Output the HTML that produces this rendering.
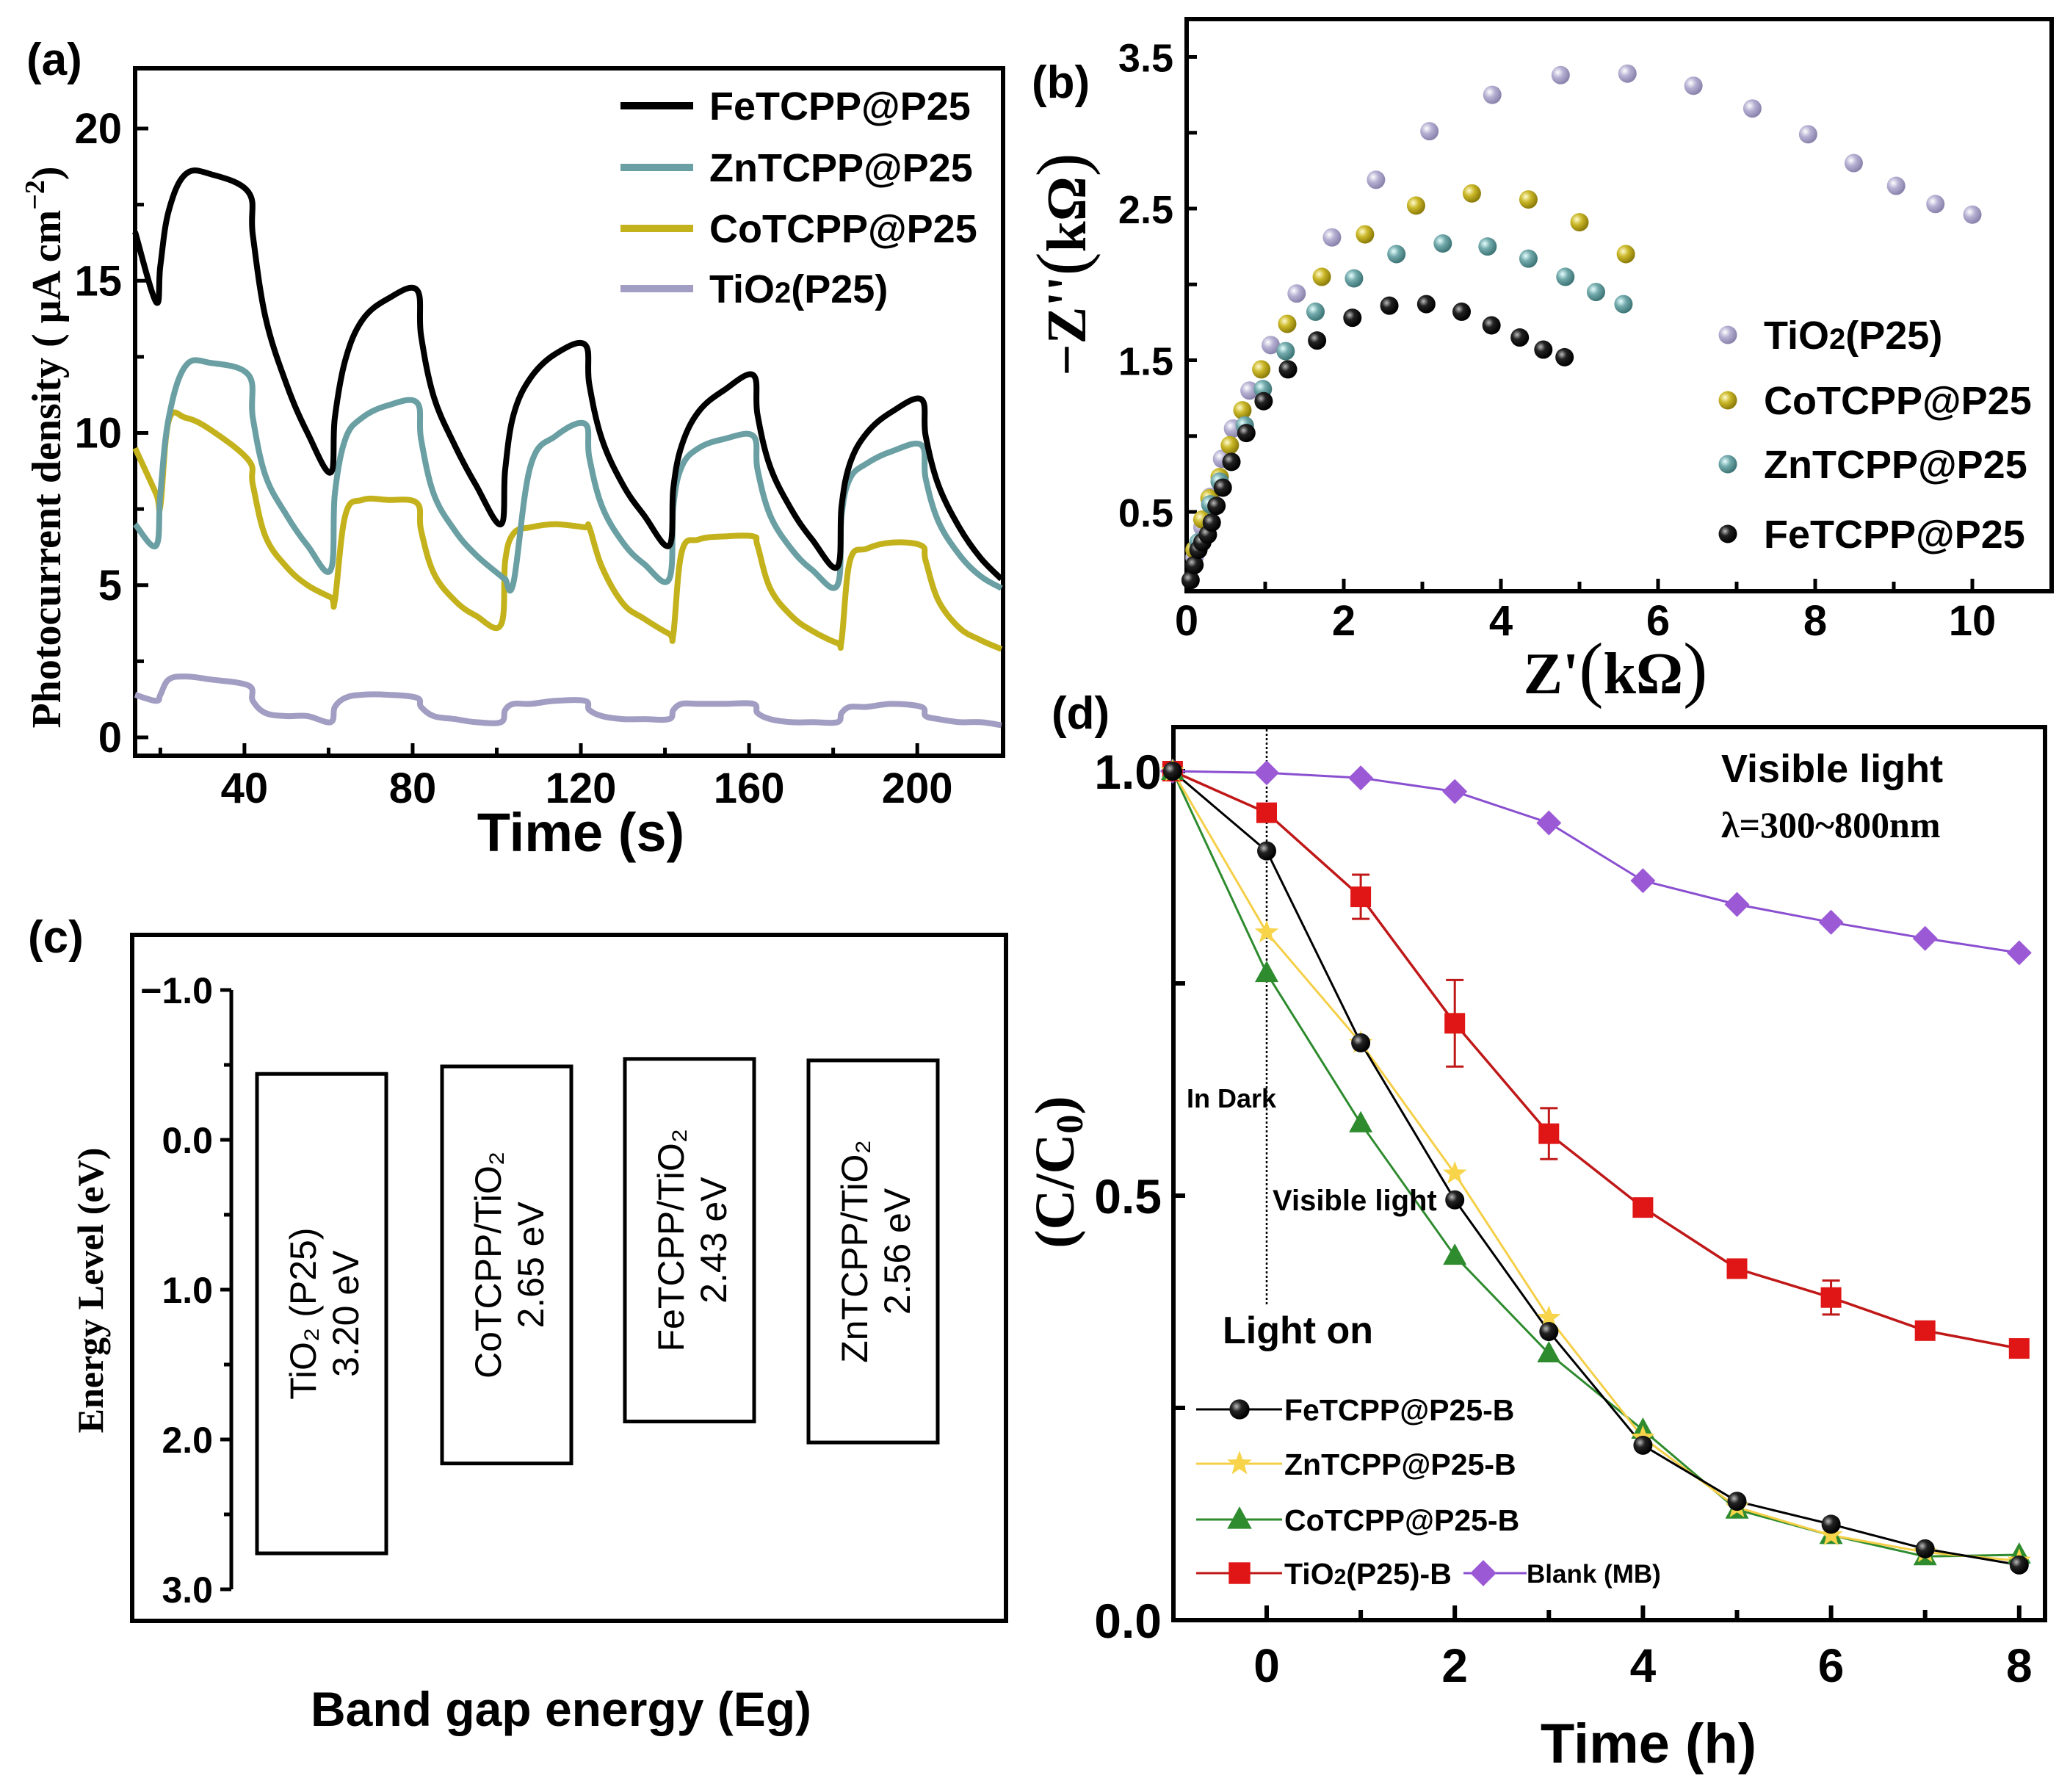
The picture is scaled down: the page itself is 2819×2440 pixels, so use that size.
<!DOCTYPE html>
<html><head><meta charset="utf-8"><style>
html,body{margin:0;padding:0;background:#fff;}
svg{display:block;}
.sb{font-family:"Liberation Sans",sans-serif;font-weight:bold;}
.sr{font-family:"Liberation Serif",serif;font-weight:bold;}
.sn{font-family:"Liberation Sans",sans-serif;}
</style></head><body>
<svg id="fig" width="2819" height="2440" viewBox="0 0 2819 2440" xmlns="http://www.w3.org/2000/svg">
<defs>
<radialGradient id="gTi" cx="35%" cy="35%" r="65%"><stop offset="0" stop-color="#fff"/><stop offset="0.45" stop-color="#b6b1d3"/><stop offset="1" stop-color="#8a84ad"/></radialGradient>
<radialGradient id="gCo" cx="35%" cy="35%" r="65%"><stop offset="0" stop-color="#fffbd0"/><stop offset="0.45" stop-color="#cbb829"/><stop offset="1" stop-color="#8d7d0a"/></radialGradient>
<radialGradient id="gZn" cx="35%" cy="35%" r="65%"><stop offset="0" stop-color="#e6ffff"/><stop offset="0.45" stop-color="#72a9ab"/><stop offset="1" stop-color="#3f7678"/></radialGradient>
<radialGradient id="gFe" cx="35%" cy="35%" r="65%"><stop offset="0" stop-color="#bbb"/><stop offset="0.4" stop-color="#222"/><stop offset="1" stop-color="#000"/></radialGradient>
</defs>

<text class="sb" x="36" y="102" font-size="62">(a)</text>
<rect x="184" y="93" width="1182" height="936" fill="none" stroke="#000" stroke-width="6"/>
<g id="aAxes"></g>
<g id="aSeries"></g>
<text class="sb" x="791" y="1159" font-size="74" text-anchor="middle">Time (s)</text>
<text class="sr" transform="translate(82,609) rotate(-90)" font-size="56" text-anchor="middle">Photocurrent density ( μA cm<tspan dy="-22" font-size="38">−2</tspan><tspan dy="22">)</tspan></text>
<g id="aLegend"></g>

<text class="sb" x="1405" y="133" font-size="62">(b)</text>
<rect x="1616" y="26" width="1178" height="779" fill="none" stroke="#000" stroke-width="6"/>
<g id="bAxes"></g>
<g id="bSeries"></g>
<text class="sr" x="2200" y="944" font-size="80" text-anchor="middle">Z'<tspan font-size="100" font-weight="normal">(</tspan>kΩ<tspan font-size="100" font-weight="normal">)</tspan></text>
<text class="sr" transform="translate(1478,360) rotate(-90)" font-size="76" text-anchor="middle">−Z''<tspan font-size="96" font-weight="normal">(</tspan>kΩ<tspan font-size="96" font-weight="normal">)</tspan></text>
<g id="bLegend"></g>

<text class="sb" x="38" y="1297" font-size="62">(c)</text>
<rect x="180" y="1273" width="1190" height="934" fill="none" stroke="#000" stroke-width="6"/>
<g id="cAxes"></g>
<g id="cBoxes"></g>
<text class="sb" x="764" y="2350" font-size="66" text-anchor="middle">Band gap energy (Eg)</text>
<text class="sr" transform="translate(140,1757) rotate(-90)" font-size="50" text-anchor="middle">Energy Level (eV)</text>

<text class="sb" x="1432" y="992" font-size="62">(d)</text>
<rect x="1598" y="990" width="1187" height="1216" fill="none" stroke="#000" stroke-width="6"/>
<g id="dAxes"></g>
<g id="dSeries"></g>
<text class="sb" x="2245" y="2400" font-size="76" text-anchor="middle">Time (h)</text>
<text class="sr" transform="translate(1462,1596) rotate(-90)" font-size="76" text-anchor="middle">(C/C<tspan dy="12" font-size="52">0</tspan><tspan dy="-12">)</tspan></text>
<text class="sb" x="2344" y="1065" font-size="54">Visible light</text>
<text class="sr" x="2344" y="1140" font-size="50">λ=300~800nm</text>
<text class="sb" x="1616" y="1508" font-size="36">In Dark</text>
<text class="sb" x="1733" y="1648" font-size="40">Visible light</text>
<text class="sb" x="1665" y="1829" font-size="52">Light on</text>
<g id="dLegend"></g>
</svg>
<script>
const aTimes = [14,19,20,22,26,32,41,42,45,50,55,60.5,61.5,64,68,74,81,82,85,90,95,101,102,104,108,114,121,122,125,130,135,141,142,144,148,154,161,162,165,170,175,181,182,184,188,194,201,202,205,210,215,220];
const aFe = [16.6,14.3,15.5,17.3,18.5,18.5,17.9,16.5,13.8,11.6,10,8.7,10.5,12.4,13.7,14.4,14.7,13.2,11.2,9.6,8.3,7.0,8.8,10.6,11.8,12.6,12.9,11.6,9.8,8.3,7.3,6.3,8.2,9.6,10.7,11.4,11.9,10.6,8.9,7.5,6.5,5.6,7.6,9.0,10.0,10.7,11.1,9.9,8.3,6.9,5.9,5.2];
const aZn = [7.0,6.3,8.0,10.5,12.2,12.3,11.9,10.5,8.6,7.3,6.3,5.5,8.0,9.8,10.5,10.9,11.0,9.8,8.0,6.8,6.0,5.3,5.2,5.1,8.9,9.9,10.3,9.2,7.6,6.4,5.7,5.2,7.6,8.9,9.5,9.8,9.9,8.8,7.3,6.2,5.5,5.0,7.3,8.5,9.0,9.4,9.6,8.5,7.1,6.0,5.3,4.9];
const aCo = [9.5,8.0,7.6,10.4,10.5,10.1,9.1,8.3,6.6,5.6,5.0,4.6,4.5,7.3,7.8,7.8,7.7,6.8,5.4,4.5,4.0,3.7,5.8,6.7,6.9,7.0,6.9,6.9,5.6,4.4,3.9,3.4,3.4,6.1,6.5,6.6,6.6,6.3,4.9,4.0,3.5,3.1,3.2,5.8,6.2,6.4,6.3,5.8,4.5,3.6,3.2,2.9];
const aTi = [1.4,1.2,1.4,1.9,2.0,1.9,1.7,1.2,0.8,0.7,0.7,0.5,1.0,1.3,1.4,1.4,1.3,1.0,0.7,0.6,0.5,0.5,0.9,1.1,1.1,1.2,1.2,0.9,0.7,0.6,0.6,0.6,0.9,1.1,1.1,1.1,1.1,0.8,0.6,0.5,0.5,0.5,0.8,1.0,1.0,1.1,1.0,0.7,0.6,0.5,0.5,0.4];
const aXTicks = [40,80,120,160,200];
const aYTicks = [0,5,10,15,20];
const aNames = ["FeTCPP@P25","ZnTCPP@P25","CoTCPP@P25","TiO2(P25)"];

const bTiX = [0.1,0.2,0.3,0.45,0.59,0.80,1.07,1.40,1.85,2.41,3.09,3.89,4.76,5.61,6.45,7.20,7.91,8.49,9.03,9.53,10.0];
const bTiY = [0.2,0.4,0.6,0.85,1.05,1.30,1.60,1.94,2.31,2.69,3.01,3.25,3.38,3.39,3.31,3.16,2.99,2.80,2.65,2.53,2.46];
const bCoX = [0.1,0.2,0.29,0.42,0.55,0.71,0.95,1.28,1.72,2.27,2.92,3.63,4.35,5.0,5.59];
const bCoY = [0.25,0.45,0.59,0.73,0.94,1.17,1.44,1.74,2.05,2.33,2.52,2.60,2.56,2.41,2.20];
const bZnX = [0.15,0.3,0.42,0.57,0.74,0.97,1.26,1.64,2.13,2.67,3.26,3.83,4.35,4.82,5.21,5.56];
const bZnY = [0.3,0.55,0.7,0.83,1.07,1.31,1.56,1.82,2.04,2.20,2.27,2.25,2.17,2.05,1.95,1.87];
const bFeX = [0.05,0.1,0.15,0.2,0.27,0.32,0.38,0.46,0.57,0.76,0.98,1.29,1.66,2.11,2.58,3.05,3.50,3.88,4.24,4.54,4.81];
const bFeY = [0.05,0.15,0.25,0.3,0.35,0.43,0.54,0.66,0.83,1.02,1.23,1.44,1.63,1.78,1.86,1.87,1.82,1.73,1.65,1.57,1.52];
const bXTicks = [0,2,4,6,8,10];
const bYTicks = [0.5,1.5,2.5,3.5];
const bNames = ["TiO2(P25)","CoTCPP@P25","ZnTCPP@P25","FeTCPP@P25"];

const cLabels1 = ["TiO₂ (P25)","CoTCPP/TiO₂","FeTCPP/TiO₂","ZnTCPP/TiO₂"];
const cLabels2 = ["3.20 eV","2.65 eV","2.43 eV","2.56 eV"];
const cTop = [-0.44,-0.49,-0.54,-0.53];
const cBottom = [2.76,2.16,1.88,2.02];
const cYTicks = [-1.0,0.0,1.0,2.0,3.0];

const dTimes = [-1,0,1,2,3,4,5,6,7,8];
const dFe = [1,0.906,0.68,0.495,0.34,0.206,0.14,0.113,0.084,0.065];
const dZn = [1,0.81,0.68,0.526,0.356,0.215,0.133,0.10,0.08,0.07];
const dCo = [1,0.762,0.585,0.429,0.314,0.224,0.13,0.10,0.075,0.077];
const dTi = [1,0.951,0.852,0.703,0.573,0.486,0.414,0.38,0.341,0.32];
const dTiErr = [0,0.005,0.026,0.051,0.03,0.005,0.005,0.02,0.005,0.005];
const dBlank = [1,0.998,0.992,0.976,0.939,0.871,0.843,0.822,0.803,0.786];
const dXTicks = [0,2,4,6,8];
const dYTicks = [0.0,0.5,1.0];

const NS = "http://www.w3.org/2000/svg";
function mk(parent, tag, attrs, text){
  const e = document.createElementNS(NS, tag);
  for (const k in attrs) e.setAttribute(k, attrs[k]);
  if (text !== undefined) e.textContent = text;
  parent.appendChild(e);
  return e;
}
function $(id){return document.getElementById(id);}
function smoothPath(P){
  let d = "M" + P[0][0].toFixed(1) + "," + P[0][1].toFixed(1);
  for (let i = 0; i < P.length - 1; i++){
    const p0 = P[i-1] || P[i], p1 = P[i], p2 = P[i+1], p3 = P[i+2] || P[i+1];
    const t = 0.18;
    const c1 = [p1[0] + (p2[0]-p0[0])*t, p1[1] + (p2[1]-p0[1])*t];
    const c2 = [p2[0] - (p3[0]-p1[0])*t, p2[1] - (p3[1]-p1[1])*t];
    d += " C" + c1[0].toFixed(1) + "," + c1[1].toFixed(1) + " " + c2[0].toFixed(1) + "," + c2[1].toFixed(1) + " " + p2[0].toFixed(1) + "," + p2[1].toFixed(1);
  }
  return d;
}

(function(){
  const x = t => 184 + (t - 14) * (1182 / (220.4 - 14));
  const y = v => 1004 - v * 41.45;
  const ax = $("aAxes");
  aXTicks.forEach(t => {
    const l = mk(ax, "line", {x1:x(t), x2:x(t), y1:1029, y2:1012, stroke:"#000", "stroke-width":5});
    
    
    const m = mk(ax, "line", {x1:x(t-20), x2:x(t-20), y1:1029, y2:1018, stroke:"#000", "stroke-width":5});
    
    
    const tx = mk(ax, "text", {x:x(t), y:1093, "font-size":58, "text-anchor":"middle", class:"sb"}, String(t));
    
    
  });
  aYTicks.forEach(v => {
    const l = mk(ax, "line", {x1:184, x2:202, y1:y(v), y2:y(v), stroke:"#000", "stroke-width":5});
    
    
    if (v < 20) {
      const m = mk(ax, "line", {x1:184, x2:196, y1:y(v+2.5), y2:y(v+2.5), stroke:"#000", "stroke-width":5});
      
      
    }
    const tx = mk(ax, "text", {x:166, y:y(v)+20, "font-size":58, "text-anchor":"end", class:"sb"}, String(v));
    
    
  });
  const series = [[aTi,"#a29dc2"],[aCo,"#c4b21c"],[aZn,"#6a9fa3"],[aFe,"#000"]];
  const sg = $("aSeries");
  series.forEach(([vals,col]) => {
    const pts = vals.map((v,i) => [x(aTimes[i]), y(v)]);
    const p = mk(sg, "path", {d:smoothPath(pts), fill:"none", stroke:col, "stroke-width":8, "stroke-linejoin":"round"});
    
    
  });
  const lg = $("aLegend");
  const lc = ["#000","#6a9fa3","#c4b21c","#a29dc2"];
  const ly = [144,228,311,393];
  aNames.forEach((n,i) => {
    const l = mk(lg, "line", {x1:845, x2:944, y1:ly[i], y2:ly[i], stroke:lc[i], "stroke-width":10});
    
    
    const t = mk(lg, "text", {x:966, y:ly[i]+19, "font-size":54, class:"sb"});
    
    
    if (n.indexOf("TiO2")===0){ t.innerHTML = 'TiO<tspan font-size="40">2</tspan>(P25)'; } else t.textContent = n;
  });
})();

(function(){
  const x = v => 1616 + v * 107;
  const y = v => 697 - (v - 0.5) * 206.5;
  const ax = $("bAxes");
  for (let i = 0; i <= 10; i++) {
    const l = mk(ax, "line", {x1:x(i), x2:x(i), y1:805, y2:(i%2? 792:788), stroke:"#000", "stroke-width":5});
    
    
  }
  bXTicks.forEach(t => {
    const tx = mk(ax, "text", {x:x(t), y:865, "font-size":58, "text-anchor":"middle", class:"sb"}, String(t));
    
    
  });
  for (let v = 0.5; v <= 3.51; v += 0.5) {
    const l = mk(ax, "line", {x1:1616, x2:1630, y1:y(v), y2:y(v), stroke:"#000", "stroke-width":5});
    
    
  }
  bYTicks.forEach(v => {
    const tx = mk(ax, "text", {x:1598, y:y(v)+20, "font-size":54, "text-anchor":"end", class:"sb"}, v.toFixed(1));
    
    
  });
  const sg = $("bSeries");
  const sets = [[bTiX,bTiY,"url(#gTi)"],[bCoX,bCoY,"url(#gCo)"],[bZnX,bZnY,"url(#gZn)"],[bFeX,bFeY,"url(#gFe)"]];
  sets.forEach(([xs,ys,f]) => {
    xs.forEach((xv,i) => {
      const c = mk(sg, "circle", {cx:x(xv), cy:y(ys[i]), r:12.5, fill:f});
      
      
    });
  });
  const lg = $("bLegend");
  const lf = ["url(#gTi)","url(#gCo)","url(#gZn)","url(#gFe)"];
  const ly = [456,545,632,727];
  bNames.forEach((n,i) => {
    const c = mk(lg, "circle", {cx:2353, cy:ly[i], r:12.5, fill:lf[i]});
    
    
    const t = mk(lg, "text", {x:2402, y:ly[i]+19, "font-size":54, class:"sb"});
    
    
    if (n.indexOf("TiO2")===0){ t.innerHTML = 'TiO<tspan font-size="40">2</tspan>(P25)'; } else t.textContent = n;
  });
})();

(function(){
  const y = v => 1348 + (v + 1) * 204;
  const ax = $("cAxes");
  const al = mk(ax, "line", {x1:315, x2:315, y1:y(-1), y2:y(3), stroke:"#000", "stroke-width":5});
  
  
  for (let v = -1; v <= 3.01; v += 0.5) {
    const l = mk(ax, "line", {x1:(Math.abs(v%1)<0.01? 300:305), x2:315, y1:y(v), y2:y(v), stroke:"#000", "stroke-width":5});
    
    
  }
  cYTicks.forEach(v => {
    const tx = mk(ax, "text", {x:290, y:y(v)+18, "font-size":50, "text-anchor":"end", class:"sb"}, (v<0?"−":"")+Math.abs(v).toFixed(1));
    
    
  });
  const bg = $("cBoxes");
  const bx = [350,602,851,1101];
  cTop.forEach((t,i) => {
    const r = mk(bg, "rect", {x:bx[i], y:y(t), width:176, height:y(cBottom[i])-y(t), fill:"#fff", stroke:"#000", "stroke-width":5});
    
    
    const cx = bx[i] + 88, cy = (y(t)+y(cBottom[i]))/2;
    const tx = mk(bg, "text", {transform:`translate(${cx},${cy}) rotate(-90)`, "font-size":50, "text-anchor":"middle", class:"sn"});
    
    
    mk(tx, "tspan", {x:0, dy:-8}, cLabels1[i]);
    mk(tx, "tspan", {x:0, dy:58}, cLabels2[i]);
  });
})();

(function(){
  const x = t => 1725 + t * 128.1;
  const y = v => 2206 - v * 1156;
  const ax = $("dAxes");
  for (let t = 0; t <= 8; t++) {
    const l = mk(ax, "line", {x1:x(t), x2:x(t), y1:2206, y2:(t%2? 2192:2186), stroke:"#000", "stroke-width":6});
    
    
  }
  dXTicks.forEach(t => {
    const tx = mk(ax, "text", {x:x(t), y:2290, "font-size":64, "text-anchor":"middle", class:"sb"}, String(t));
    
    
  });
  [0.25,0.5,0.75,1.0].forEach(v => {
    const l = mk(ax, "line", {x1:1598, x2:1614, y1:y(v), y2:y(v), stroke:"#000", "stroke-width":6});
    
    
  });
  dYTicks.forEach(v => {
    const tx = mk(ax, "text", {x:1582, y:y(v)+24, "font-size":66, "text-anchor":"end", class:"sb"}, v.toFixed(1));
    
    
  });
  const dl = mk(ax, "line", {x1:x(0), x2:x(0), y1:993, y2:1776, stroke:"#000", "stroke-width":2.5, "stroke-dasharray":"3,3"});
  
  

  const sg = $("dSeries");
  function line(vals, col, w){
    const d = vals.map((v,i)=>(i?"L":"M")+x(dTimes[i]).toFixed(1)+","+y(v).toFixed(1)).join(" ");
    const p = mk(sg, "path", {d:d, fill:"none", stroke:col, "stroke-width":w});
    
    
  }
  function marker(g, type, cx, cy, s){
    let e;
    if (type==="circle") e = mk(g, "circle", {cx:cx, cy:cy, r:13*s, fill:"url(#gFe)"});
    else if (type==="star") {
      const pts=[]; for(let k=0;k<10;k++){const a=-Math.PI/2+k*Math.PI/5; const r=(k%2?7:17)*s; pts.push((cx+r*Math.cos(a)).toFixed(1)+","+(cy+r*Math.sin(a)).toFixed(1));}
      e = mk(g, "polygon", {points:pts.join(" "), fill:"#f7d44a"});
    } else if (type==="tri") e = mk(g, "polygon", {points:`${cx},${cy-17*s} ${cx-16*s},${cy+12*s} ${cx+16*s},${cy+12*s}`, fill:"#2e8b2e"});
    else if (type==="sq") e = mk(g, "rect", {x:cx-14*s, y:cy-14*s, width:28*s, height:28*s, fill:"#e01515"});
    else e = mk(g, "polygon", {points:`${cx},${cy-17*s} ${cx+17*s},${cy} ${cx},${cy+17*s} ${cx-17*s},${cy}`, fill:"#9b59d6"});
    return e;
  }
  line(dBlank,"#8a4fd0",3); line(dTi,"#c01818",3.5); line(dCo,"#2e8b2e",3); line(dZn,"#f5cf48",3); line(dFe,"#000",3);
  dTi.forEach((v,i)=>{
    if (dTiErr[i] > 0.006){
      const cx = x(dTimes[i]);
      const eb = mk(sg, "path", {d:`M${cx},${y(v+dTiErr[i])} L${cx},${y(v-dTiErr[i])} M${cx-12},${y(v+dTiErr[i])} L${cx+12},${y(v+dTiErr[i])} M${cx-12},${y(v-dTiErr[i])} L${cx+12},${y(v-dTiErr[i])}`, stroke:"#c01818", "stroke-width":3, fill:"none"});
      
      
    }
  });
  [[dBlank,"dia"],[dTi,"sq"],[dCo,"tri"],[dZn,"star"],[dFe,"circle"]].forEach(([vals,tp])=>{
    vals.forEach((v,i)=>{
      const m = marker(sg, tp, x(dTimes[i]), y(v), 1);
      
      
    });
  });
  const lg = $("dLegend");
  const rows = [["FeTCPP@P25-B","circle","#000",1919],["ZnTCPP@P25-B","star","#f5cf48",1993],["CoTCPP@P25-B","tri","#2e8b2e",2069],["TiO2(P25)-B","sq","#c01818",2142]];
  rows.forEach(([n,tp,col,ly])=>{
    const l = mk(lg, "line", {x1:1629, x2:1746, y1:ly, y2:ly, stroke:col, "stroke-width":3});
    
    
    const m = marker(lg, tp, 1688, ly, 1.05);
    
    
    const t = mk(lg, "text", {x:1749, y:ly+15, "font-size":41, class:"sb"});
    
    
    if (n.indexOf("TiO2")===0){ t.innerHTML = 'TiO<tspan font-size="30">2</tspan>(P25)-B'; } else t.textContent = n;
  });
  const bl = mk(lg, "line", {x1:1993, x2:2079, y1:2142, y2:2142, stroke:"#8a4fd0", "stroke-width":3});
  
  
  const bm = marker(lg, "dia", 2020, 2142, 1.05);
  
  
  const bt = mk(lg, "text", {x:2079, y:2155, "font-size":35, class:"sb"}, "Blank (MB)");
  
  
})();
</script>
</body></html>
